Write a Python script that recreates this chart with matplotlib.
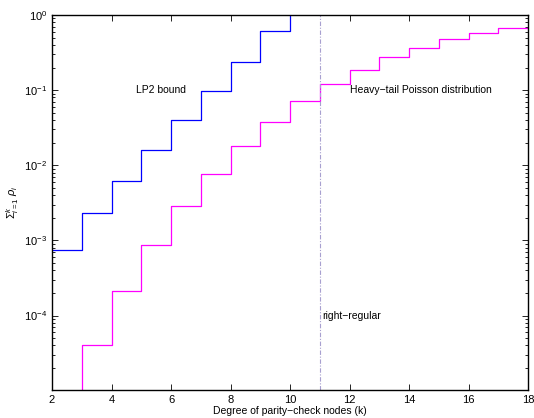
import numpy as np
import matplotlib.pyplot as plt
from matplotlib.ticker import LogLocator, FixedLocator

plt.rcParams['font.family'] = ['Liberation Sans', 'DejaVu Sans']
plt.rcParams['mathtext.fontset'] = 'custom'
plt.rcParams['mathtext.rm'] = 'Liberation Sans'
plt.rcParams['mathtext.it'] = 'Liberation Sans:italic'

# Cumulative sums of rho_i, step value on [k, k+1)
lp2_k   = [2, 3, 4, 5, 6, 7, 8, 9, 10]
lp2_val = [7.4e-4, 2.3e-3, 6.2e-3, 1.6e-2, 4.0e-2, 9.7e-2, 0.236, 0.61, 1.0]

ht_k   = [2, 3, 4, 5, 6, 7, 8, 9, 10, 11, 12, 13, 14, 15, 16, 17, 18]
ht_val = [5e-6, 4.0e-5, 2.15e-4, 8.6e-4, 2.84e-3, 7.6e-3, 1.79e-2, 3.74e-2,
          7.1e-2, 0.12, 0.187, 0.273, 0.366, 0.479, 0.575, 0.67, 0.67]

regular_k = 11

fig = plt.figure(figsize=(5.34, 4.18), dpi=100)
ax = fig.add_axes([0.0974, 0.067, 0.8914, 0.897])

ax.step(lp2_k, lp2_val, where='post', color='#0000ff', linewidth=0.9)
ax.step(ht_k, ht_val, where='post', color='#ff00ff', linewidth=0.9)
ax.axvline(regular_k, color='#a8a0d0', linewidth=0.8, linestyle=(0, (4, 1.5, 1, 1.5)))

ax.set_yscale('log')
ax.set_xlim(2, 18)
ax.set_ylim(1.02e-5, 1)
ax.set_xticks(np.arange(2, 19, 2))
ax.yaxis.set_major_locator(FixedLocator([1e-4, 1e-3, 1e-2, 1e-1, 1]))
ax.yaxis.set_minor_locator(LogLocator(base=10, subs=np.arange(2, 10)))

ax.tick_params(which='both', direction='in', top=True, right=True, labelsize=8)
ax.tick_params(which='major', length=4, width=0.6)
ax.tick_params(which='minor', length=2, width=0.6)
for s in ax.spines.values():
    s.set_linewidth(1.0)

ax.text(4.82, 0.1, 'LP2 bound', fontsize=7.5, va='center')
ax.text(12.02, 0.1, 'Heavy\u2212tail Poisson distribution', fontsize=7.5, va='center')
ax.text(11.1, 1e-4, 'right\u2212regular', fontsize=7.5, va='center')

ax.set_xlabel('Degree of parity\u2212check nodes (k)', fontsize=7.5, labelpad=1)
ax.set_ylabel(r'$\Sigma_{i=1}^{k}\ \rho_i$', fontsize=8, labelpad=2)

fig.savefig('out.png', dpi=100)
